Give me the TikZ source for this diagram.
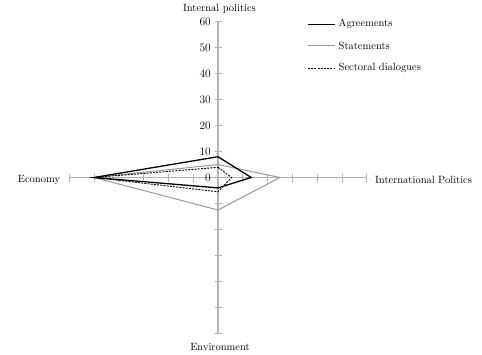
\documentclass[tikz,border=0pt]{standalone}
\begin{document}
\begin{tikzpicture}[x=1pt,y=-1pt,
  axisline/.style={draw=black!30, line width=1.4pt},
  tickmark/.style={draw=black!30, line width=0.9pt},
  ticklabel/.style={anchor=east, inner sep=0pt, font=\fontsize{11.5}{13}\selectfont},
  axislabel/.style={inner sep=0pt, font=\fontsize{10.5}{12}\selectfont},
  agree/.style={draw=black, line width=1.3pt, line join=miter},
  state/.style={draw=black!40, line width=1pt},
  sector/.style={draw=black, line width=0.9pt, dash pattern=on 2pt off 1.2pt},
  legtext/.style={anchor=west, inner sep=0pt, font=\fontsize{10.5}{12}\selectfont}]
\useasboundingbox (0,0) rectangle (482,354);
% axes
\coordinate (C) at (218,177.5);
\coordinate (T) at (218,21.5);
\coordinate (B) at (218,333.5);
\coordinate (L) at (69.2,177.5);
\coordinate (R) at (366.8,177.5);
\draw[axisline] (T) -- (B);
\draw[axisline] (L) -- (R);
\foreach \k in {1,...,6}{
  \draw[tickmark] (214.5,{177.5-26*\k}) -- (221.5,{177.5-26*\k});
  \draw[tickmark] (214.5,{177.5+26*\k}) -- (221.5,{177.5+26*\k});
  \draw[tickmark] ({218+24.8*\k},173.5) -- ({218+24.8*\k},181.5);
  \draw[tickmark] ({218-24.8*\k},173.5) -- ({218-24.8*\k},181.5);
}
\foreach \v/\k in {0/0,10/1,20/2,30/3,40/4,50/5,60/6}{
  \node[ticklabel] (t\v) at (211,{177.5-26*\k}) {\v};
}
% axis labels
\node[axislabel] (ip) at (219.5,9) {Internal politics};
\node[axislabel] (ec) at (39,180) {Economy};
\node[axislabel, anchor=west] (intl) at (375,180) {International Politics};
\node[axislabel] (env) at (220,346.5) {Environment};
% data points
\coordinate (aT) at (218,156.7);
\coordinate (aR) at (251.2,177.5);
\coordinate (aB) at (218,187.9);
\coordinate (aL) at (94,177.5);
\coordinate (sT) at (218,164.5);
\coordinate (sR) at (280,177.5);
\coordinate (sB) at (218,210);
\coordinate (sL) at (94,177.5);
\coordinate (dT) at (218,167.3);
\coordinate (dR) at (231.6,177.5);
\coordinate (dB) at (218,191.8);
\coordinate (dL) at (94,177.5);
\draw[state] (sT) -- (sR) -- (sB) -- (sL) -- cycle;
\draw[sector] (dT) -- (dR) -- (dB) -- (dL) -- cycle;
\draw[agree] (aT) -- (aR) -- (aB) -- (aL) -- cycle;
% legend
\coordinate (l1a) at (308,24.3); \coordinate (l1b) at (335,24.3);
\coordinate (l2a) at (308,45.7); \coordinate (l2b) at (335,45.7);
\coordinate (l3a) at (308,68.3); \coordinate (l3b) at (335,68.3);
\draw[agree] (l1a) -- (l1b);
\draw[state] (l2a) -- (l2b);
\draw[sector] (l3a) -- (l3b);
\node[legtext] (g1) at (338.5,24.3) {Agreements};
\node[legtext] (g2) at (338.5,45.7) {Statements};
\node[legtext] (g3) at (338.5,68.3) {Sectoral dialogues};
\end{tikzpicture}
\end{document}
